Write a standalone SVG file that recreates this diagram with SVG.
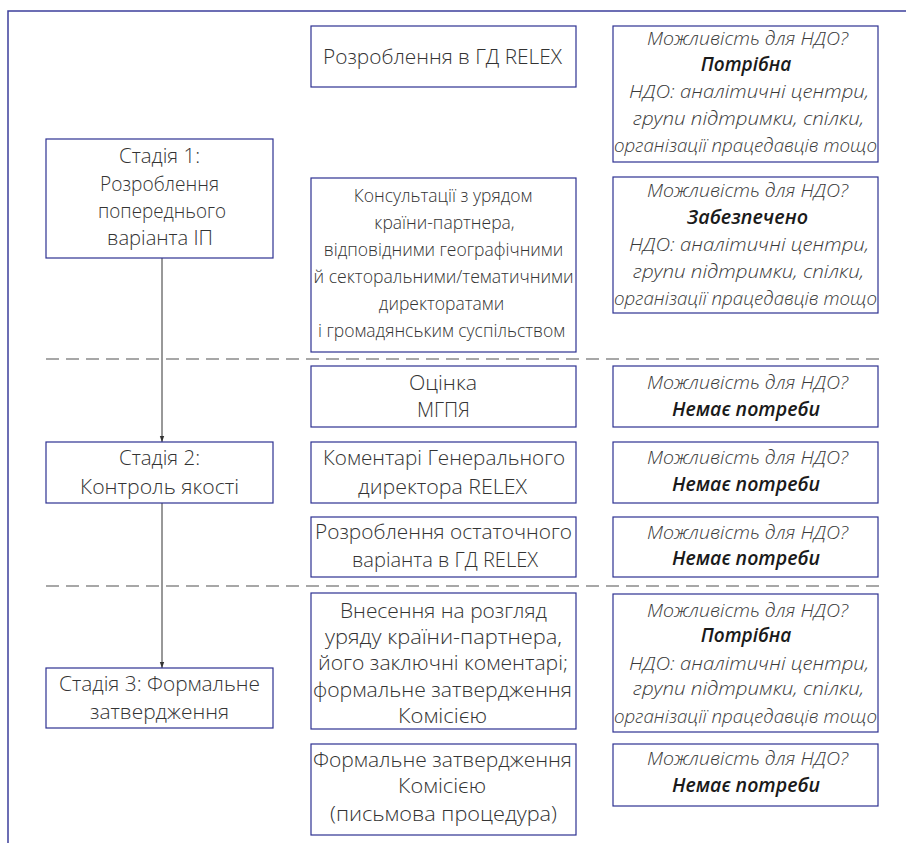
<svg xmlns="http://www.w3.org/2000/svg" width="906" height="843" viewBox="0 0 906 843">
  <defs>
    <style>
      .box { fill: #ffffff; stroke: #2e3192; stroke-width: 1.2; }
      .frame { fill: none; stroke: #3c3f9c; stroke-width: 1.5; }
      .sep { fill: none; stroke: #8a8a8a; stroke-width: 1.6; stroke-dasharray: 13 7; }
      .flow { fill: none; stroke: #333333; stroke-width: 1; }
      .lt { font-family: "Open Sans", "Noto Sans", "DejaVu Sans", sans-serif; font-weight: 300; font-size: 21px; fill: #333333; text-anchor: middle; }
      .sm { font-size: 17.5px; }
      .it { font-family: "Open Sans", "Noto Sans", "DejaVu Sans", sans-serif; font-style: italic; font-weight: 300; font-size: 19px; fill: #3a3a3a; text-anchor: middle; }
      .itb { font-family: "Open Sans", "Noto Sans", "DejaVu Sans", sans-serif; font-style: italic; font-weight: 600; font-size: 19px; fill: #1a1a1a; text-anchor: middle; }
    </style>
    <marker id="arrow" viewBox="0 0 6 6" refX="6" refY="3" markerWidth="6" markerHeight="6" orient="auto" markerUnits="userSpaceOnUse">
      <path d="M0,0.8 L6,3 L0,5.2 z" fill="#333333"/>
    </marker>
  </defs>

  <!-- page frame: top and left rules -->
  <path class="frame" d="M8,843 V11 H906"/>

  <!-- stage separators -->
  <g id="separators">
    <line class="sep" x1="46" y1="359" x2="879" y2="359"/>
    <line class="sep" x1="46" y1="586" x2="879" y2="586"/>
  </g>

  <!-- connectors between stages -->
  <g id="connectors">
    <line class="flow" x1="162" y1="258" x2="162" y2="442" marker-end="url(#arrow)"/>
    <line class="flow" x1="162" y1="503" x2="162" y2="668" marker-end="url(#arrow)"/>
  </g>

  <!-- stages -->
  <g id="stage1">
    <rect class="box" x="46" y="139" width="227" height="119"/>
    <text class="lt" x="159.5" y="163" textLength="81" lengthAdjust="spacingAndGlyphs">Стадія 1:</text>
    <text class="lt" x="159.5" y="191" textLength="119" lengthAdjust="spacingAndGlyphs">Розроблення</text>
    <text class="lt" x="162" y="218" textLength="128" lengthAdjust="spacingAndGlyphs">попереднього</text>
    <text class="lt" x="160" y="245" textLength="106" lengthAdjust="spacingAndGlyphs">варіанта ІП</text>
  </g>
  <g id="stage2">
    <rect class="box" x="46" y="442" width="227" height="61"/>
    <text class="lt" x="159.5" y="465" textLength="81" lengthAdjust="spacingAndGlyphs">Стадія 2:</text>
    <text class="lt" x="159.5" y="494" textLength="159" lengthAdjust="spacingAndGlyphs">Контроль якості</text>
  </g>
  <g id="stage3">
    <rect class="box" x="46" y="668" width="227" height="60"/>
    <text class="lt" x="159.5" y="691" textLength="201" lengthAdjust="spacingAndGlyphs">Стадія 3: Формальне</text>
    <text class="lt" x="159.5" y="719" textLength="139" lengthAdjust="spacingAndGlyphs">затвердження</text>
  </g>

  <!-- steps -->
  <g id="step-drafting">
    <rect class="box" x="311" y="26" width="265" height="61"/>
    <text class="lt" x="442.5" y="64" textLength="239" lengthAdjust="spacingAndGlyphs">Розроблення в ГД RELEX</text>
  </g>
  <g id="step-consultations">
    <rect class="box" x="311" y="178" width="265" height="174"/>
    <text class="lt sm" x="443" y="202">Консультації з урядом</text>
    <text class="lt sm" x="444.5" y="229">країни-партнера,</text>
    <text class="lt sm" x="443.5" y="256">відповідними географічними</text>
    <text class="lt sm" x="443.5" y="283" textLength="260" lengthAdjust="spacingAndGlyphs">й секторальними/тематичними</text>
    <text class="lt sm" x="441.5" y="310">директоратами</text>
    <text class="lt sm" x="441.5" y="337">і громадянським суспільством</text>
  </g>
  <g id="step-assessment">
    <rect class="box" x="311" y="366" width="265" height="61"/>
    <text class="lt" x="443" y="390" textLength="68" lengthAdjust="spacingAndGlyphs">Оцінка</text>
    <text class="lt" x="443.5" y="417" textLength="53" lengthAdjust="spacingAndGlyphs">МГПЯ</text>
  </g>
  <g id="step-dg-comments">
    <rect class="box" x="311" y="442" width="265" height="61"/>
    <text class="lt" x="444" y="465" textLength="242" lengthAdjust="spacingAndGlyphs">Коментарі Генерального</text>
    <text class="lt" x="442.5" y="494" textLength="169" lengthAdjust="spacingAndGlyphs">директора RELEX</text>
  </g>
  <g id="step-final-draft">
    <rect class="box" x="311" y="517" width="265" height="60"/>
    <text class="lt" x="443.5" y="539" textLength="257" lengthAdjust="spacingAndGlyphs">Розроблення остаточного</text>
    <text class="lt" x="445" y="567" textLength="186" lengthAdjust="spacingAndGlyphs">варіанта в ГД RELEX</text>
  </g>
  <g id="step-submission">
    <rect class="box" x="311" y="593" width="265" height="136"/>
    <text class="lt" x="443.5" y="618" textLength="207" lengthAdjust="spacingAndGlyphs">Внесення на розгляд</text>
    <text class="lt" x="443.5" y="644" textLength="237" lengthAdjust="spacingAndGlyphs">уряду країни-партнера,</text>
    <text class="lt" x="443" y="670" textLength="250" lengthAdjust="spacingAndGlyphs">його заключні коментарі;</text>
    <text class="lt" x="442.5" y="697" textLength="259" lengthAdjust="spacingAndGlyphs">формальне затвердження</text>
    <text class="lt" x="442.5" y="723" textLength="89" lengthAdjust="spacingAndGlyphs">Комісією</text>
  </g>
  <g id="step-written-procedure">
    <rect class="box" x="311" y="744" width="265" height="91"/>
    <text class="lt" x="442.5" y="767" textLength="259" lengthAdjust="spacingAndGlyphs">Формальне затвердження</text>
    <text class="lt" x="442" y="793" textLength="88" lengthAdjust="spacingAndGlyphs">Комісією</text>
    <text class="lt" x="443.5" y="821" textLength="227" lengthAdjust="spacingAndGlyphs">(письмова процедура)</text>
  </g>

  <!-- NGO opportunity notes -->
  <g id="ngo-drafting">
    <rect class="box" x="613" y="26" width="265" height="136"/>
    <text class="it" x="747.5" y="45" textLength="201" lengthAdjust="spacingAndGlyphs">Можливість для НДО?</text>
    <text class="itb" x="746" y="71">Потрібна</text>
    <text class="it" x="749" y="98" textLength="240" lengthAdjust="spacingAndGlyphs">НДО: аналітичні центри,</text>
    <text class="it" x="748.5" y="125" textLength="231" lengthAdjust="spacingAndGlyphs">групи підтримки, спілки,</text>
    <text class="it" x="745.5" y="152" textLength="263" lengthAdjust="spacingAndGlyphs">організації працедавців тощо</text>
  </g>
  <g id="ngo-consultations">
    <rect class="box" x="613" y="177" width="265" height="136"/>
    <text class="it" x="747.5" y="197" textLength="201" lengthAdjust="spacingAndGlyphs">Можливість для НДО?</text>
    <text class="itb" x="747.5" y="224" textLength="121" lengthAdjust="spacingAndGlyphs">Забезпечено</text>
    <text class="it" x="749" y="251" textLength="240" lengthAdjust="spacingAndGlyphs">НДО: аналітичні центри,</text>
    <text class="it" x="748.5" y="278" textLength="231" lengthAdjust="spacingAndGlyphs">групи підтримки, спілки,</text>
    <text class="it" x="745.5" y="305" textLength="263" lengthAdjust="spacingAndGlyphs">організації працедавців тощо</text>
  </g>
  <g id="ngo-assessment">
    <rect class="box" x="613" y="366" width="265" height="61"/>
    <text class="it" x="747.5" y="389" textLength="201" lengthAdjust="spacingAndGlyphs">Можливість для НДО?</text>
    <text class="itb" x="746" y="416" textLength="148" lengthAdjust="spacingAndGlyphs">Немає потреби</text>
  </g>
  <g id="ngo-dg-comments">
    <rect class="box" x="613" y="442" width="265" height="61"/>
    <text class="it" x="747.5" y="464" textLength="201" lengthAdjust="spacingAndGlyphs">Можливість для НДО?</text>
    <text class="itb" x="746" y="491" textLength="148" lengthAdjust="spacingAndGlyphs">Немає потреби</text>
  </g>
  <g id="ngo-final-draft">
    <rect class="box" x="613" y="517" width="265" height="60"/>
    <text class="it" x="747.5" y="539" textLength="201" lengthAdjust="spacingAndGlyphs">Можливість для НДО?</text>
    <text class="itb" x="746" y="565" textLength="148" lengthAdjust="spacingAndGlyphs">Немає потреби</text>
  </g>
  <g id="ngo-submission">
    <rect class="box" x="613" y="594" width="265" height="138"/>
    <text class="it" x="747.5" y="617" textLength="201" lengthAdjust="spacingAndGlyphs">Можливість для НДО?</text>
    <text class="itb" x="746" y="642">Потрібна</text>
    <text class="it" x="749" y="670" textLength="240" lengthAdjust="spacingAndGlyphs">НДО: аналітичні центри,</text>
    <text class="it" x="748.5" y="695" textLength="231" lengthAdjust="spacingAndGlyphs">групи підтримки, спілки,</text>
    <text class="it" x="745.5" y="723" textLength="263" lengthAdjust="spacingAndGlyphs">організації працедавців тощо</text>
  </g>
  <g id="ngo-written-procedure">
    <rect class="box" x="613" y="744" width="265" height="62"/>
    <text class="it" x="747.5" y="765" textLength="201" lengthAdjust="spacingAndGlyphs">Можливість для НДО?</text>
    <text class="itb" x="746" y="792" textLength="148" lengthAdjust="spacingAndGlyphs">Немає потреби</text>
  </g>
</svg>
